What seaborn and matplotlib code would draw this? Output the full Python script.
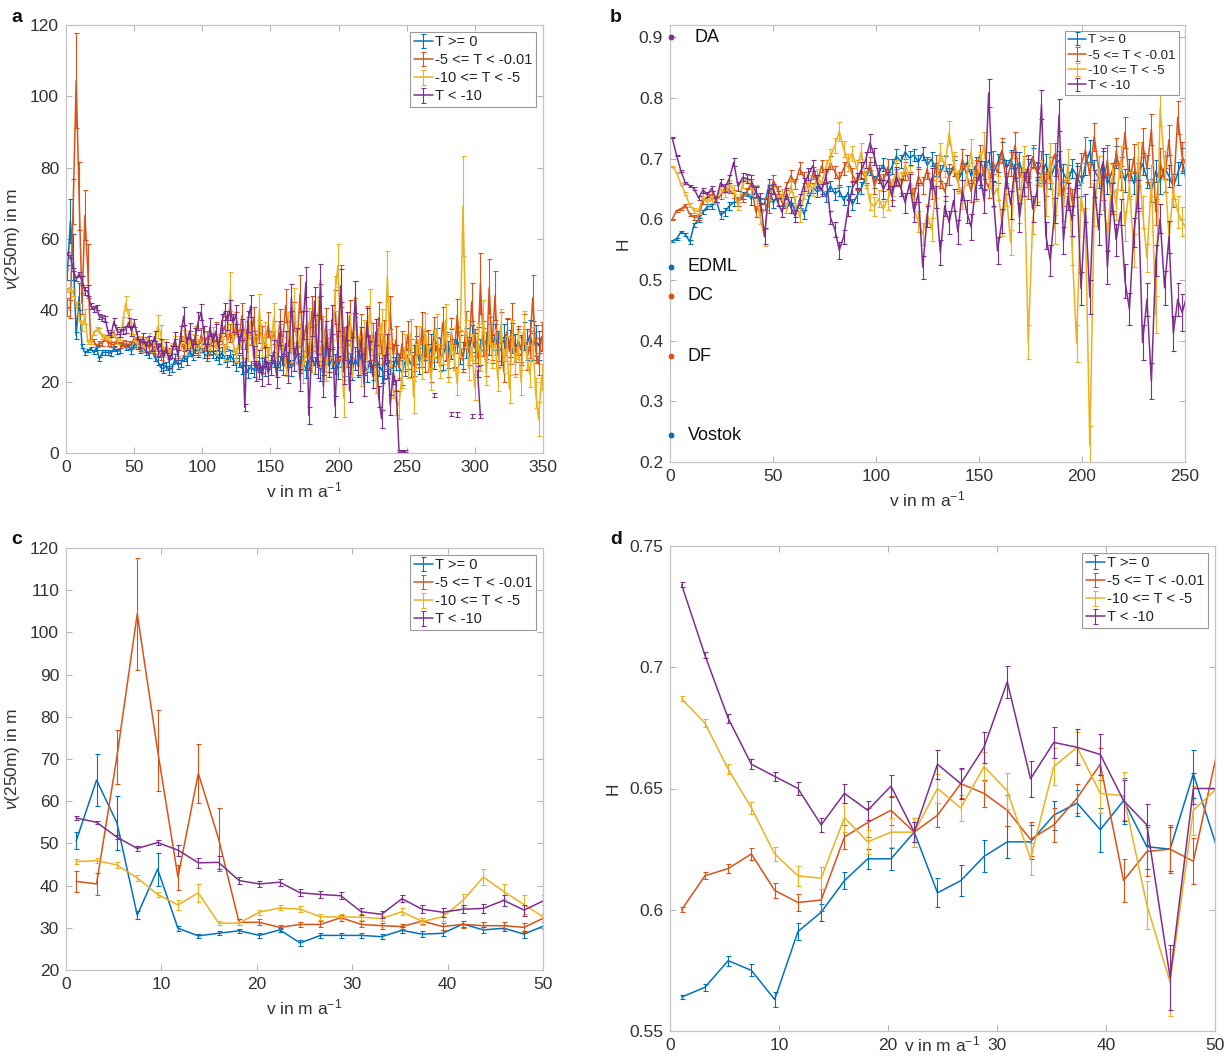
import numpy as np
import pandas as pd
import matplotlib
matplotlib.use("Agg")
import matplotlib.pyplot as plt
from matplotlib.ticker import FuncFormatter, MultipleLocator
import seaborn as sns

nan = float("nan")

# Velocity bins: width of each bin in m a^-1 (values are plotted at bin centres)
V_BIN_WIDTH = 2.134

CLASS_LABELS = ["T >= 0", "-5 <= T < -0.01", "-10 <= T < -5", "T < -10"]
CLASS_COLORS = ["#0072BD", "#D95319", "#EDB120", "#7E2F8E"]

# ---------------- nu(250m) in m, per temperature class ----------------
nu_t_ge0 = [
    50.6, 65.0, 54.9, 33.0, 43.9, 29.9, 28.1, 28.7, 29.3, 28.2,
    29.5, 26.4, 28.2, 28.2, 28.2, 27.9, 29.4, 28.5, 28.7, 30.9,
    29.5, 29.9, 28.5, 30.5, 30.0, 28.8, 29.6, 28.4, 27.6, 28.9,
    26.8, 25.9, 24.0, 23.6, 24.5, 23.2, 23.9, 26.5, 24.8, 25.1,
    27.2, 26.0, 28.5, 27.3, 29.2, 28.4, 29.6, 28.0, 27.1, 29.0,
    28.3, 27.5, 26.4, 28.1, 27.0, 25.8, 27.4, 26.2, 24.9, 25.7,
    23.8, 24.6, 22.9, 24.1, 23.3, 25.2, 22.6, 24.4, 23.7, 25.5,
    24.0, 26.1, 23.5, 25.3, 27.0, 24.2, 26.3, 23.9, 25.6, 27.8,
    24.7, 26.0, 23.4, 25.9, 27.3, 24.5, 26.8, 23.1, 25.4, 27.6,
    24.3, 26.5, 25.0, 23.8, 26.9, 24.6, 28.2, 25.3, 23.6, 26.4,
    24.2, 27.5, 25.1, 22.8, 25.9, 24.0, 27.1, 24.8, 23.2, 26.2,
    24.4, 25.8, 23.5, 26.7, 24.1, 22.6, 25.2, 27.4, 24.9, 26.6,
    28.8, 25.7, 27.9, 30.1, 26.8, 29.4, 27.2, 31.0, 28.5, 26.9,
    29.8, 27.6, 30.5, 28.1, 31.7, 29.0, 27.4, 30.8, 28.6, 32.1,
    29.5, 31.4, 28.3, 33.0, 30.2, 31.8, 29.1, 32.6, 30.0, 28.7,
    31.9, 33.4, 30.6, 32.2, 29.4, 31.2, 28.9, 32.8, 30.4, 33.1,
    29.8, 31.6, 30.1, 32.4,
]
nu_err_ge0 = [
    2.0, 6.2, 6.4, 1.0, 3.9, 0.6, 0.5, 0.5, 0.5, 0.5,
    0.5, 0.6, 0.6, 0.6, 0.6, 0.6, 0.7, 0.7, 0.7, 0.8,
    0.7, 0.7, 0.8, 0.8, 0.8, 0.9, 0.8, 0.9, 1.0, 0.9,
    1.0, 1.1, 1.0, 1.2, 1.1, 1.2, 1.1, 1.3, 1.2, 1.1,
    1.3, 1.2, 1.4, 1.2, 1.3, 1.4, 1.3, 1.5, 1.4, 1.3,
    1.6, 1.5, 1.4, 1.6, 1.5, 1.7, 1.6, 1.5, 1.8, 1.7,
    1.6, 1.9, 1.8, 1.7, 2.0, 1.8, 1.9, 2.1, 2.0, 1.9,
    2.2, 2.1, 2.3, 2.0, 2.2, 2.4, 2.1, 2.3, 2.5, 2.2,
    2.4, 2.6, 2.3, 2.5, 2.7, 2.4, 2.6, 2.8, 2.5, 2.7,
    2.9, 2.6, 2.8, 3.0, 2.7, 2.9, 3.1, 2.8, 3.0, 3.2,
    2.9, 3.1, 3.3, 3.0, 3.2, 3.4, 3.1, 3.3, 3.5, 3.2,
    3.4, 3.6, 3.3, 3.5, 3.7, 3.4, 3.6, 3.8, 3.5, 3.7,
    3.9, 3.6, 3.8, 4.0, 3.7, 3.9, 3.6, 4.1, 3.8, 3.5,
    4.0, 3.7, 4.2, 3.9, 3.6, 4.1, 3.8, 4.3, 4.0, 3.7,
    4.2, 3.9, 3.6, 4.1, 3.8, 4.3, 4.0, 3.7, 4.2, 3.9,
    4.4, 4.1, 3.8, 4.3, 4.0, 3.7, 4.2, 3.9, 4.4, 4.1,
    3.8, 4.3, 4.0, 3.6,
]

nu_t_m5 = [
    41.0, 40.4, 70.5, 104.4, 72.0, 42.0, 66.6, 51.0, 31.3, 31.3,
    30.1, 30.8, 30.8, 32.4, 30.8, 30.5, 30.3, 31.6, 30.3, 30.8,
    30.5, 30.5, 30.1, 32.4, 31.5, 29.8, 30.4, 31.2, 29.6, 30.1,
    28.9, 29.7, 27.4, 28.6, 29.9, 27.8, 29.2, 30.5, 28.3, 31.4,
    29.1, 30.8, 32.6, 30.2, 31.5, 29.4, 33.1, 30.6, 32.4, 29.8,
    31.9, 34.2, 30.5, 32.8, 35.6, 31.3, 33.7, 30.9, 36.4, 32.1,
    38.5, 31.8, 35.2, 33.0, 37.6, 30.4, 34.1, 32.5, 29.7, 35.9,
    31.2, 33.8, 28.6, 36.7, 30.9, 41.3, 33.5, 27.8, 38.2, 31.4,
    44.6, 30.2, 35.8, 26.9, 39.7, 32.3, 28.1, 42.5, 30.7, 36.4,
    25.8, 33.6, 40.9, 29.4, 46.8, 31.7, 27.2, 38.5, 30.1, 43.2,
    28.4, 34.9, 26.3, 36.8, 29.5, 32.7, 24.8, 37.9, 28.2, 33.4,
    26.6, 39.3, 27.5, 31.8, 23.9, 30.6, 26.1, 33.2, 28.7, 24.5,
    31.9, 27.3, 35.4, 25.6, 30.8, 22.7, 34.1, 28.9, 26.2, 36.5,
    29.7, 24.3, 33.8, 27.1, 38.6, 30.4, 25.9, 35.7, 28.2, 42.4,
    30.9, 26.7, 47.5, 31.2, 24.6, 46.3, 29.8, 44.1, 27.5, 35.2,
    22.8, 33.9, 28.4, 37.6, 25.3, 31.7, 29.0, 34.8, 26.5, 30.3,
    43.5, 28.7, 24.9, 32.6,
]
nu_err_m5 = [
    2.5, 2.6, 6.4, 13.3, 9.5, 3.0, 7.0, 7.5, 0.7, 0.7,
    0.5, 0.6, 0.7, 0.7, 0.7, 0.7, 0.7, 0.8, 0.8, 0.8,
    0.9, 0.9, 1.0, 1.0, 1.0, 1.1, 1.0, 1.2, 1.1, 1.3,
    1.2, 1.1, 1.4, 1.2, 1.3, 1.5, 1.2, 1.4, 1.6, 1.3,
    1.5, 1.4, 1.7, 1.5, 1.6, 1.8, 2.0, 1.7, 1.9, 2.2,
    1.8, 2.4, 2.0, 2.3, 2.8, 2.2, 2.6, 2.4, 3.1, 2.5,
    3.6, 2.7, 3.0, 2.8, 3.4, 2.9, 3.2, 3.0, 2.8, 3.5,
    3.1, 3.3, 2.9, 3.8, 3.2, 4.6, 3.5, 3.0, 4.1, 3.4,
    5.2, 3.3, 3.9, 3.1, 4.4, 3.6, 3.2, 5.0, 3.5, 4.2,
    3.0, 3.8, 4.7, 3.4, 5.8, 3.6, 3.1, 4.5, 3.4, 5.1,
    3.2, 4.0, 3.0, 4.3, 3.5, 3.8, 2.9, 4.4, 3.3, 3.9,
    3.1, 4.6, 3.2, 3.7, 2.8, 3.6, 3.1, 3.9, 3.4, 2.9,
    3.8, 3.3, 4.2, 3.0, 3.6, 2.7, 4.0, 3.5, 3.1, 4.3,
    3.6, 3.0, 4.1, 3.4, 4.6, 3.7, 3.2, 4.2, 3.5, 5.4,
    3.8, 3.3, 8.6, 3.9, 3.1, 8.2, 3.7, 6.8, 3.4, 4.2,
    2.9, 4.0, 3.5, 4.5, 3.2, 3.9, 3.6, 4.3, 3.3, 3.8,
    6.4, 3.5, 3.0, 4.1,
]

nu_t_m10 = [
    45.7, 45.9, 44.9, 41.8, 37.9, 35.4, 38.3, 31.1, 31.1, 33.7,
    34.7, 34.4, 32.6, 32.6, 32.5, 32.2, 33.8, 31.5, 32.6, 36.5,
    42.0, 38.6, 35.5, 32.4, 30.4, 31.6, 29.3, 30.8, 32.1, 29.5,
    30.9, 35.4, 33.8, 28.2, 30.6, 27.9, 29.4, 31.2, 28.7, 30.3,
    32.6, 29.1, 31.8, 28.4, 33.5, 30.2, 29.6, 31.9, 28.8, 30.7,
    33.2, 29.3, 31.4, 34.6, 28.1, 32.0, 45.2, 30.6, 27.4, 31.7,
    29.0, 34.1, 28.3, 36.9, 30.2, 26.8, 40.4, 29.5, 33.7, 27.1,
    30.8, 38.2, 26.5, 32.9, 29.6, 24.2, 35.8, 28.4, 41.7, 27.9,
    33.1, 22.6, 30.5, 36.7, 25.8, 31.4, 39.2, 27.0, 34.6, 23.5,
    31.2, 28.3, 44.8, 52.6, 30.1, 15.4, 27.6, 35.3, 24.7, 38.9,
    29.4, 21.8, 33.7, 26.2, 41.3, 28.5, 19.9, 31.6, 36.4, 25.1,
    49.5, 27.8, 18.6, 14.2, 13.5, 21.4, 29.7, 24.3, 33.6, 15.8,
    27.2, 31.9, 23.7, 35.1, 26.4, 20.8, 30.5, 34.8, 24.1, 28.6,
    37.3, 22.9, 31.4, 26.8, 19.5, 30.7, 69.2, 33.5, 23.6, 29.8,
    18.4, 32.7, 26.1, 38.4, 22.3, 34.6, 27.4, 31.2, 20.5, 36.1,
    25.7, 29.3, 17.9, 33.4, 24.6, 30.1, 19.8, 35.6, 26.9, 22.1,
    31.5, 16.7, 9.5, 21.3,
]
nu_err_m10 = [
    0.5, 0.6, 0.8, 0.6, 0.6, 1.2, 2.1, 0.5, 0.5, 0.6,
    0.6, 0.7, 0.7, 0.6, 0.7, 0.7, 0.8, 0.8, 0.9, 1.6,
    1.9, 1.8, 2.2, 0.9, 1.0, 1.2, 1.1, 1.3, 1.5, 1.2,
    1.4, 3.2, 2.0, 1.3, 1.5, 1.3, 1.4, 1.6, 1.4, 1.5,
    1.8, 1.5, 1.7, 1.6, 2.0, 1.7, 1.6, 1.9, 1.7, 1.8,
    2.2, 1.8, 2.0, 2.6, 1.9, 2.3, 5.5, 2.2, 2.0, 2.5,
    2.3, 2.9, 2.4, 3.6, 2.6, 2.3, 4.1, 2.7, 3.0, 2.5,
    2.8, 3.9, 2.6, 3.2, 2.9, 2.7, 3.8, 2.8, 4.6, 3.0,
    3.4, 2.9, 3.2, 4.0, 3.1, 3.5, 4.4, 3.0, 3.8, 3.2,
    3.6, 3.3, 4.9, 6.0, 3.4, 5.2, 3.1, 3.9, 3.3, 4.5,
    3.5, 3.0, 3.7, 3.2, 4.6, 3.4, 3.0, 3.8, 4.1, 3.3,
    7.0, 3.5, 3.1, 3.6, 4.0, 3.2, 3.7, 3.4, 4.1, 4.5,
    3.3, 3.8, 3.0, 4.2, 3.5, 3.1, 3.9, 4.3, 3.2, 3.6,
    4.5, 3.0, 3.7, 3.4, 3.3, 3.8, 14.0, 3.9, 3.2, 3.6,
    3.4, 3.8, 3.1, 4.4, 3.3, 4.0, 3.5, 3.7, 3.2, 4.2,
    3.4, 3.6, 3.9, 3.8, 3.3, 3.7, 3.5, 4.1, 3.4, 3.6,
    3.9, 4.2, 4.8, 3.7,
]

nu_t_lt10 = [
    56.0, 55.0, 51.5, 48.8, 50.2, 48.4, 45.4, 45.5, 41.2, 40.4,
    40.8, 38.3, 37.9, 37.6, 33.8, 33.2, 36.9, 34.4, 33.7, 34.4,
    34.6, 36.5, 34.2, 36.5, 33.1, 30.6, 32.4, 29.8, 31.5, 30.2,
    32.7, 28.9, 30.4, 26.8, 29.5, 25.6, 28.3, 31.9, 27.1, 33.6,
    38.4, 30.7, 34.2, 29.4, 32.8, 36.9, 39.5, 33.1, 28.6, 35.3,
    31.0, 33.8, 29.2, 36.4, 39.7, 37.2, 40.1, 36.5, 38.8, 30.3,
    34.6, 12.8, 36.9, 41.2, 27.4, 23.1, 25.8, 21.6, 26.9, 22.4,
    24.7, 28.5, 21.2, 33.6, 24.9, 30.7, 22.8, 43.5, 26.1, 31.4,
    20.5, 35.8, 47.9, 10.6, 29.3, 42.6, 24.4, 48.5, 18.7, 33.2,
    26.0, 37.4, 13.1, 30.8, 46.9, 22.7, 35.5, 17.4, 28.9, 43.8,
    25.3, 31.6, 19.2, 36.7, 27.8, 21.5, 33.9, 15.8, 9.6, 24.1,
    29.7, 13.4, 22.6, 19.0, 0.6, 0.5, 0.5, nan, nan, nan,
    nan, nan, nan, nan, nan, nan, 16.3, nan, nan, nan,
    nan, nan, 11.0, nan, 10.8, nan, nan, nan, nan, 10.3,
    nan, 22.8, 10.4, nan, nan, nan, nan, nan, nan, nan,
    nan, nan, nan, nan, nan, nan, nan, nan, nan, nan,
    nan, nan, nan, nan,
]
nu_err_lt10 = [
    0.4, 0.4, 0.5, 0.5, 0.5, 1.3, 1.2, 1.6, 0.8, 0.8,
    0.8, 0.8, 0.8, 0.8, 0.8, 0.8, 0.9, 1.0, 1.1, 1.0,
    1.0, 1.3, 1.3, 1.2, 1.2, 1.3, 1.2, 1.4, 1.3, 1.5,
    1.4, 1.6, 1.5, 1.7, 1.6, 1.8, 1.7, 2.0, 1.8, 2.1,
    2.4, 1.9, 2.2, 2.0, 2.3, 2.5, 2.2, 2.4, 2.1, 2.6,
    2.3, 2.5, 2.2, 2.7, 2.4, 2.6, 2.8, 2.5, 2.7, 2.4,
    2.9, 1.0, 3.0, 3.2, 2.6, 2.8, 3.0, 2.7, 2.9, 3.1,
    2.8, 3.3, 3.0, 3.4, 2.9, 3.5, 3.1, 3.8, 3.2, 3.6,
    3.0, 3.9, 4.2, 2.4, 3.4, 4.0, 3.3, 4.4, 3.1, 3.7,
    3.2, 4.1, 3.0, 3.5, 4.6, 3.3, 3.9, 3.2, 3.6, 4.5,
    3.4, 3.8, 3.1, 4.0, 3.5, 3.2, 3.7, 3.0, 2.5, 3.4,
    3.6, 2.8, 3.3, 1.5, 0.3, 0.3, 0.3, nan, nan, nan,
    nan, nan, nan, nan, nan, nan, 0.6, nan, nan, nan,
    nan, nan, 0.6, nan, 0.6, nan, nan, nan, nan, 0.6,
    nan, 1.5, 0.6, nan, nan, nan, nan, nan, nan, nan,
    nan, nan, nan, nan, nan, nan, nan, nan, nan, nan,
    nan, nan, nan, nan,
]

# ---------------- Hurst exponent H, per temperature class ----------------
H_t_ge0 = [
    0.564, 0.568, 0.579, 0.575, 0.563, 0.591, 0.599, 0.612, 0.621, 0.621,
    0.632, 0.607, 0.612, 0.622, 0.628, 0.628, 0.639, 0.644, 0.633, 0.645,
    0.626, 0.625, 0.656, 0.626, 0.641, 0.628, 0.617, 0.630, 0.612, 0.625,
    0.608, 0.633, 0.652, 0.645, 0.650, 0.638, 0.655, 0.642, 0.647, 0.631,
    0.644, 0.624, 0.638, 0.651, 0.668, 0.684, 0.662, 0.676, 0.690, 0.672,
    0.687, 0.704, 0.695, 0.711, 0.701, 0.706, 0.694, 0.708, 0.689, 0.699,
    0.682, 0.676, 0.692, 0.670, 0.685, 0.662, 0.679, 0.693, 0.671, 0.688,
    0.664, 0.681, 0.697, 0.675, 0.692, 0.713, 0.684, 0.699, 0.677, 0.694,
    0.668, 0.686, 0.702, 0.679, 0.673, 0.691, 0.665, 0.688, 0.697, 0.676,
    0.661, 0.684, 0.672, 0.655, 0.689, 0.712, 0.681, 0.667, 0.694, 0.658,
    0.677, 0.703, 0.686, 0.664, 0.682, 0.659, 0.674, 0.691, 0.668, 0.647,
    0.679, 0.662, 0.685, 0.671, 0.654, 0.676, 0.697, 0.662,
]
H_err_ge0 = [
    .001, .0015, .002, .0025, .003, .0035, .0035, .0035, .004, .0045,
    .004, .006, .0065, .0066, .0066, .007, .006, .0055, .009, .0095,
    .009, .009, .010, .008, .006, .007, .006, .007, .008, .007,
    .008, .007, .008, .009, .008, .009, .008, .010, .009, .008,
    .010, .009, .011, .010, .009, .011, .010, .009, .011, .010,
    .012, .011, .010, .012, .011, .010, .012, .011, .013, .012,
    .011, .013, .012, .014, .013, .012, .014, .013, .012, .014,
    .013, .015, .014, .013, .015, .014, .013, .015, .014, .016,
    .015, .014, .016, .015, .014, .016, .015, .017, .016, .015,
    .017, .016, .015, .017, .016, .018, .017, .016, .018, .017,
    .016, .018, .017, .019, .018, .017, .019, .018, .017, .019,
    .018, .020, .019, .018, .020, .019, .021, .020,
]

H_t_m5 = [
    0.600, 0.614, 0.617, 0.623, 0.608, 0.603, 0.604, 0.630, 0.636, 0.641,
    0.632, 0.639, 0.652, 0.648, 0.641, 0.629, 0.635, 0.646, 0.660, 0.612,
    0.624, 0.625, 0.620, 0.664, 0.648, 0.631, 0.655, 0.672, 0.658, 0.684,
    0.669, 0.651, 0.676, 0.662, 0.688, 0.671, 0.693, 0.678, 0.665, 0.684,
    0.697, 0.673, 0.659, 0.681, 0.668, 0.692, 0.654, 0.677, 0.661, 0.686,
    0.643, 0.668, 0.652, 0.679, 0.664, 0.638, 0.671, 0.656, 0.683, 0.649,
    0.692, 0.667, 0.645, 0.674, 0.688, 0.661, 0.699, 0.672, 0.646, 0.681,
    0.706, 0.668, 0.652, 0.694, 0.677, 0.713, 0.659, 0.691, 0.722, 0.668,
    0.684, 0.651, 0.703, 0.675, 0.692, 0.658, 0.681, 0.707, 0.664, 0.643,
    0.671, 0.628, 0.655, 0.689, 0.714, 0.672, 0.736, 0.684, 0.652, 0.698,
    0.627, 0.712, 0.668, 0.743, 0.659, 0.701, 0.634, 0.726, 0.683, 0.748,
    0.612, 0.694, 0.665, 0.731, 0.642, 0.768, 0.703, 0.688,
]
H_err_m5 = [
    .001, .0015, .002, .0025, .003, .0035, .0045, .005, .006, .006,
    .006, .005, .006, .0055, .0065, .007, .007, .006, .0065, .009,
    .010, .0098, .0095, .009, .007, .008, .007, .009, .008, .010,
    .009, .008, .010, .009, .010, .009, .011, .010, .012, .011,
    .010, .012, .011, .013, .012, .011, .013, .012, .014, .013,
    .012, .014, .013, .015, .014, .013, .015, .014, .016, .015,
    .014, .016, .015, .017, .016, .015, .017, .016, .018, .017,
    .016, .018, .017, .019, .018, .020, .017, .019, .021, .018,
    .020, .017, .019, .018, .020, .019, .021, .018, .020, .022,
    .019, .021, .018, .020, .022, .019, .023, .020, .021, .024,
    .019, .022, .020, .025, .021, .023, .020, .024, .022, .026,
    .021, .023, .020, .025, .022, .027, .024, .023,
]

H_t_m10 = [
    0.687, 0.677, 0.658, 0.642, 0.623, 0.614, 0.613, 0.638, 0.628, 0.632,
    0.632, 0.650, 0.642, 0.659, 0.649, 0.621, 0.659, 0.667, 0.648, 0.647,
    0.602, 0.570, 0.641, 0.650, 0.632, 0.641, 0.618, 0.655, 0.627, 0.604,
    0.643, 0.661, 0.648, 0.672, 0.658, 0.687, 0.703, 0.721, 0.745, 0.716,
    0.694, 0.708, 0.683, 0.712, 0.665, 0.628, 0.621, 0.634, 0.617, 0.632,
    0.652, 0.683, 0.661, 0.689, 0.672, 0.618, 0.596, 0.575, 0.609, 0.583,
    0.652, 0.711, 0.687, 0.742, 0.694, 0.662, 0.635, 0.673, 0.712, 0.648,
    0.694, 0.722, 0.671, 0.638, 0.652, 0.594, 0.641, 0.562, 0.688, 0.617,
    0.701, 0.398, 0.598, 0.647, 0.676, 0.629, 0.705, 0.583, 0.662, 0.618,
    0.691, 0.547, 0.395, 0.638, 0.594, 0.228, 0.612, 0.683, 0.641, 0.572,
    0.667, 0.624, 0.698, 0.589, 0.655, 0.548, 0.703, 0.612, 0.536, 0.664,
    0.443, 0.782, 0.689, 0.571, 0.648, 0.612, 0.596, 0.584,
]
H_err_m10 = [
    .001, .0015, .002, .0025, .003, .004, .0045, .006, .005, .006,
    .006, .006, .0055, .006, .0075, .0065, .0075, .0065, .008, .010,
    .010, .014, .010, .008, .008, .009, .008, .010, .011, .009,
    .010, .012, .010, .011, .012, .011, .013, .012, .016, .013,
    .014, .012, .015, .013, .014, .013, .015, .014, .013, .016,
    .014, .015, .017, .014, .016, .015, .017, .018, .016, .019,
    .017, .015, .018, .020, .017, .019, .018, .016, .020, .018,
    .017, .021, .019, .018, .020, .022, .019, .021, .018, .023,
    .020, .028, .022, .019, .021, .023, .020, .024, .022, .021,
    .025, .023, .030, .022, .024, .032, .023, .021, .025, .022,
    .024, .026, .023, .025, .022, .027, .024, .026, .023, .025,
    .030, .028, .024, .026, .025, .027, .024, .025,
]

H_t_lt10 = [
    0.734, 0.705, 0.679, 0.660, 0.655, 0.650, 0.635, 0.648, 0.641, 0.651,
    0.632, 0.660, 0.652, 0.667, 0.694, 0.654, 0.669, 0.667, 0.664, 0.645,
    0.635, 0.572, 0.650, 0.650, 0.628, 0.611, 0.643, 0.619, 0.605, 0.632,
    0.657, 0.674, 0.688, 0.662, 0.648, 0.671, 0.603, 0.583, 0.549, 0.571,
    0.618, 0.652, 0.664, 0.681, 0.697, 0.726, 0.703, 0.672, 0.649, 0.664,
    0.638, 0.671, 0.652, 0.627, 0.659, 0.612, 0.644, 0.521, 0.604, 0.668,
    0.637, 0.545, 0.622, 0.594, 0.631, 0.579, 0.648, 0.613, 0.587, 0.652,
    0.676, 0.629, 0.808, 0.642, 0.548, 0.597, 0.671, 0.624, 0.689, 0.603,
    0.658, 0.684, 0.617, 0.646, 0.789, 0.573, 0.532, 0.614, 0.772, 0.565,
    0.638, 0.597, 0.672, 0.486, 0.618, 0.472, 0.659, 0.583, 0.694, 0.521,
    0.637, 0.566, 0.612, 0.498, 0.452, 0.578, 0.641, 0.397, 0.468, 0.333,
    0.532, 0.601, 0.487, 0.571, 0.412, 0.468, 0.446, 0.472,
]
H_err_lt10 = [
    .001, .0012, .0018, .002, .002, .0025, .003, .004, .004, .0045,
    .004, .006, .0065, .0065, .0065, .0075, .0065, .0075, .0085, .0085,
    .0085, .0135, .0065, .008, .007, .008, .009, .008, .010, .009,
    .011, .010, .009, .011, .010, .012, .011, .013, .014, .012,
    .013, .011, .012, .014, .013, .015, .014, .013, .015, .014,
    .016, .015, .014, .016, .015, .017, .016, .019, .017, .016,
    .018, .020, .017, .019, .018, .020, .017, .019, .021, .018,
    .020, .019, .023, .021, .022, .020, .019, .023, .021, .024,
    .020, .022, .021, .023, .024, .022, .025, .021, .026, .023,
    .022, .024, .021, .027, .023, .028, .022, .025, .024, .027,
    .023, .026, .022, .028, .026, .024, .023, .029, .027, .030,
    .025, .024, .028, .026, .029, .027, .030, .028,
]

# Reference ice-core sites shown in panel b
core_names = ["DA", "EDML", "DC", "DF", "Vostok"]
core_H = [0.90, 0.522, 0.474, 0.374, 0.244]
core_class = [3, 0, 1, 1, 0]

nu_series = [(nu_t_ge0, nu_err_ge0), (nu_t_m5, nu_err_m5),
             (nu_t_m10, nu_err_m10), (nu_t_lt10, nu_err_lt10)]
H_series = [(H_t_ge0, H_err_ge0), (H_t_m5, H_err_m5),
            (H_t_m10, H_err_m10), (H_t_lt10, H_err_lt10)]

# ---------------- styling ----------------
sns.set_theme(style="white")
plt.rcParams["font.family"] = ["Liberation Sans", "DejaVu Sans"]
plt.rcParams["mathtext.fontset"] = "custom"
plt.rcParams["mathtext.rm"] = "Liberation Sans"
plt.rcParams["mathtext.it"] = "Liberation Sans:italic"
plt.rcParams["mathtext.bf"] = "Liberation Sans:bold"

TEXT_COLOR = "#333333"
SPINE_COLOR = "#c4c4c4"
LINE_W = 1.1
ERR_W = 0.8
CAP = 1.8


def draw_series(ax, values, errors, color):
    y = np.asarray(values, dtype=float)
    e = np.asarray(errors, dtype=float)
    v = (np.arange(y.size) + 0.5) * V_BIN_WIDTH
    ok = ~np.isnan(y)
    segment = np.cumsum(~ok)
    df = pd.DataFrame({"v": v, "y": y, "segment": segment})[ok]
    sns.lineplot(data=df, x="v", y="y", units="segment", estimator=None,
                 sort=False, color=color, linewidth=LINE_W, ax=ax, legend=False)
    ax.errorbar(v[ok], y[ok], yerr=e[ok], fmt="none", ecolor=color,
                elinewidth=ERR_W, capsize=CAP, capthick=ERR_W)


def style_axes(ax, xlim, ylim, xstep, ystep, ylabel, fmt):
    ax.set_xlim(*xlim)
    ax.set_ylim(*ylim)
    ax.xaxis.set_major_locator(MultipleLocator(xstep))
    ax.yaxis.set_major_locator(MultipleLocator(ystep))
    ax.yaxis.set_major_formatter(FuncFormatter(fmt))
    ax.xaxis.set_major_formatter(FuncFormatter(lambda x, p: f"{x:g}"))
    for s in ax.spines.values():
        s.set_visible(True)
        s.set_color(SPINE_COLOR)
        s.set_linewidth(0.9)
    ax.tick_params(direction="in", length=4, width=0.7, color="#b0b0b0",
                   labelcolor=TEXT_COLOR, labelsize=12.5, top=True, right=True,
                   bottom=True, left=True, pad=5)
    ax.set_xlabel(r"v in m a$^{-1}$", fontsize=12.5, color=TEXT_COLOR, labelpad=4)
    ax.set_ylabel(ylabel, fontsize=12.5, color=TEXT_COLOR, labelpad=6)


def add_legend(ax, fontsize, spacing):
    handles = []
    for color, lab in zip(CLASS_COLORS, CLASS_LABELS):
        h = ax.errorbar([nan], [nan], yerr=[nan], color=color, linewidth=LINE_W,
                        elinewidth=ERR_W, capsize=CAP, capthick=ERR_W, label=lab)
        handles.append(h)
    leg = ax.legend(handles=handles, loc="upper right", fontsize=fontsize,
                    frameon=True, fancybox=False, framealpha=1.0,
                    edgecolor="#9a9a9a", borderpad=0.25, labelspacing=spacing,
                    handlelength=1.3, handletextpad=0.2, borderaxespad=0.45)
    leg.get_frame().set_linewidth(0.8)
    for t in leg.get_texts():
        t.set_color("#222222")


fig = plt.figure(figsize=(12.3, 10.57), dpi=100)
W, Hh = 1230.0, 1057.0


def axes_px(left, top, right, bottom):
    return fig.add_axes([left / W, 1 - bottom / Hh, (right - left) / W, (bottom - top) / Hh])


ax_a = axes_px(66, 25, 543, 453)
ax_b = axes_px(670, 25, 1185, 462)
ax_c = axes_px(66, 548, 543, 970)
ax_d = axes_px(670, 546, 1215, 1031)

fmt_g = lambda y, p: f"{y:g}"
nu_label = r"$\nu$(250m) in m"

for ax in (ax_a, ax_c):
    for (vals, errs), color in zip(nu_series, CLASS_COLORS):
        draw_series(ax, vals, errs, color)
for ax in (ax_b, ax_d):
    for (vals, errs), color in zip(H_series, CLASS_COLORS):
        draw_series(ax, vals, errs, color)

style_axes(ax_a, (0, 350), (0, 120), 50, 20, nu_label, fmt_g)
style_axes(ax_b, (0, 250), (0.2, 0.92), 50, 0.1, "H", fmt_g)
style_axes(ax_c, (0, 50), (20, 120), 10, 10, nu_label, fmt_g)
style_axes(ax_d, (0, 50), (0.55, 0.75), 10, 0.05, "H", fmt_g)

# Bottom panel d sits close to the figure edge: tuck its axis label up
ax_d.xaxis.set_label_coords(0.5, -3.0 / 485.0)

add_legend(ax_a, 10.5, 0.28)
add_legend(ax_b, 9.5, 0.22)
add_legend(ax_c, 10.5, 0.28)
add_legend(ax_d, 10.5, 0.28)

# Ice-core reference values at the left edge of panel b
for name, h, k in zip(core_names, core_H, core_class):
    ax_b.plot([0.4], [h], marker="o", ms=3.2, color=CLASS_COLORS[k],
              clip_on=False, zorder=5, linestyle="none")
    dx = 12 if name == "DA" else 8.5
    ax_b.text(dx, h, name, fontsize=13, color="#111111", va="center", ha="left")

# Panel letters
for letter, (px, py) in zip("abcd", [(17, 18), (616, 18), (17, 540), (616, 540)]):
    fig.text(px / W, 1 - py / Hh, letter, fontsize=14, fontweight="bold",
             color="#111111", ha="center", va="center")

fig.savefig("out.png", dpi=100)
